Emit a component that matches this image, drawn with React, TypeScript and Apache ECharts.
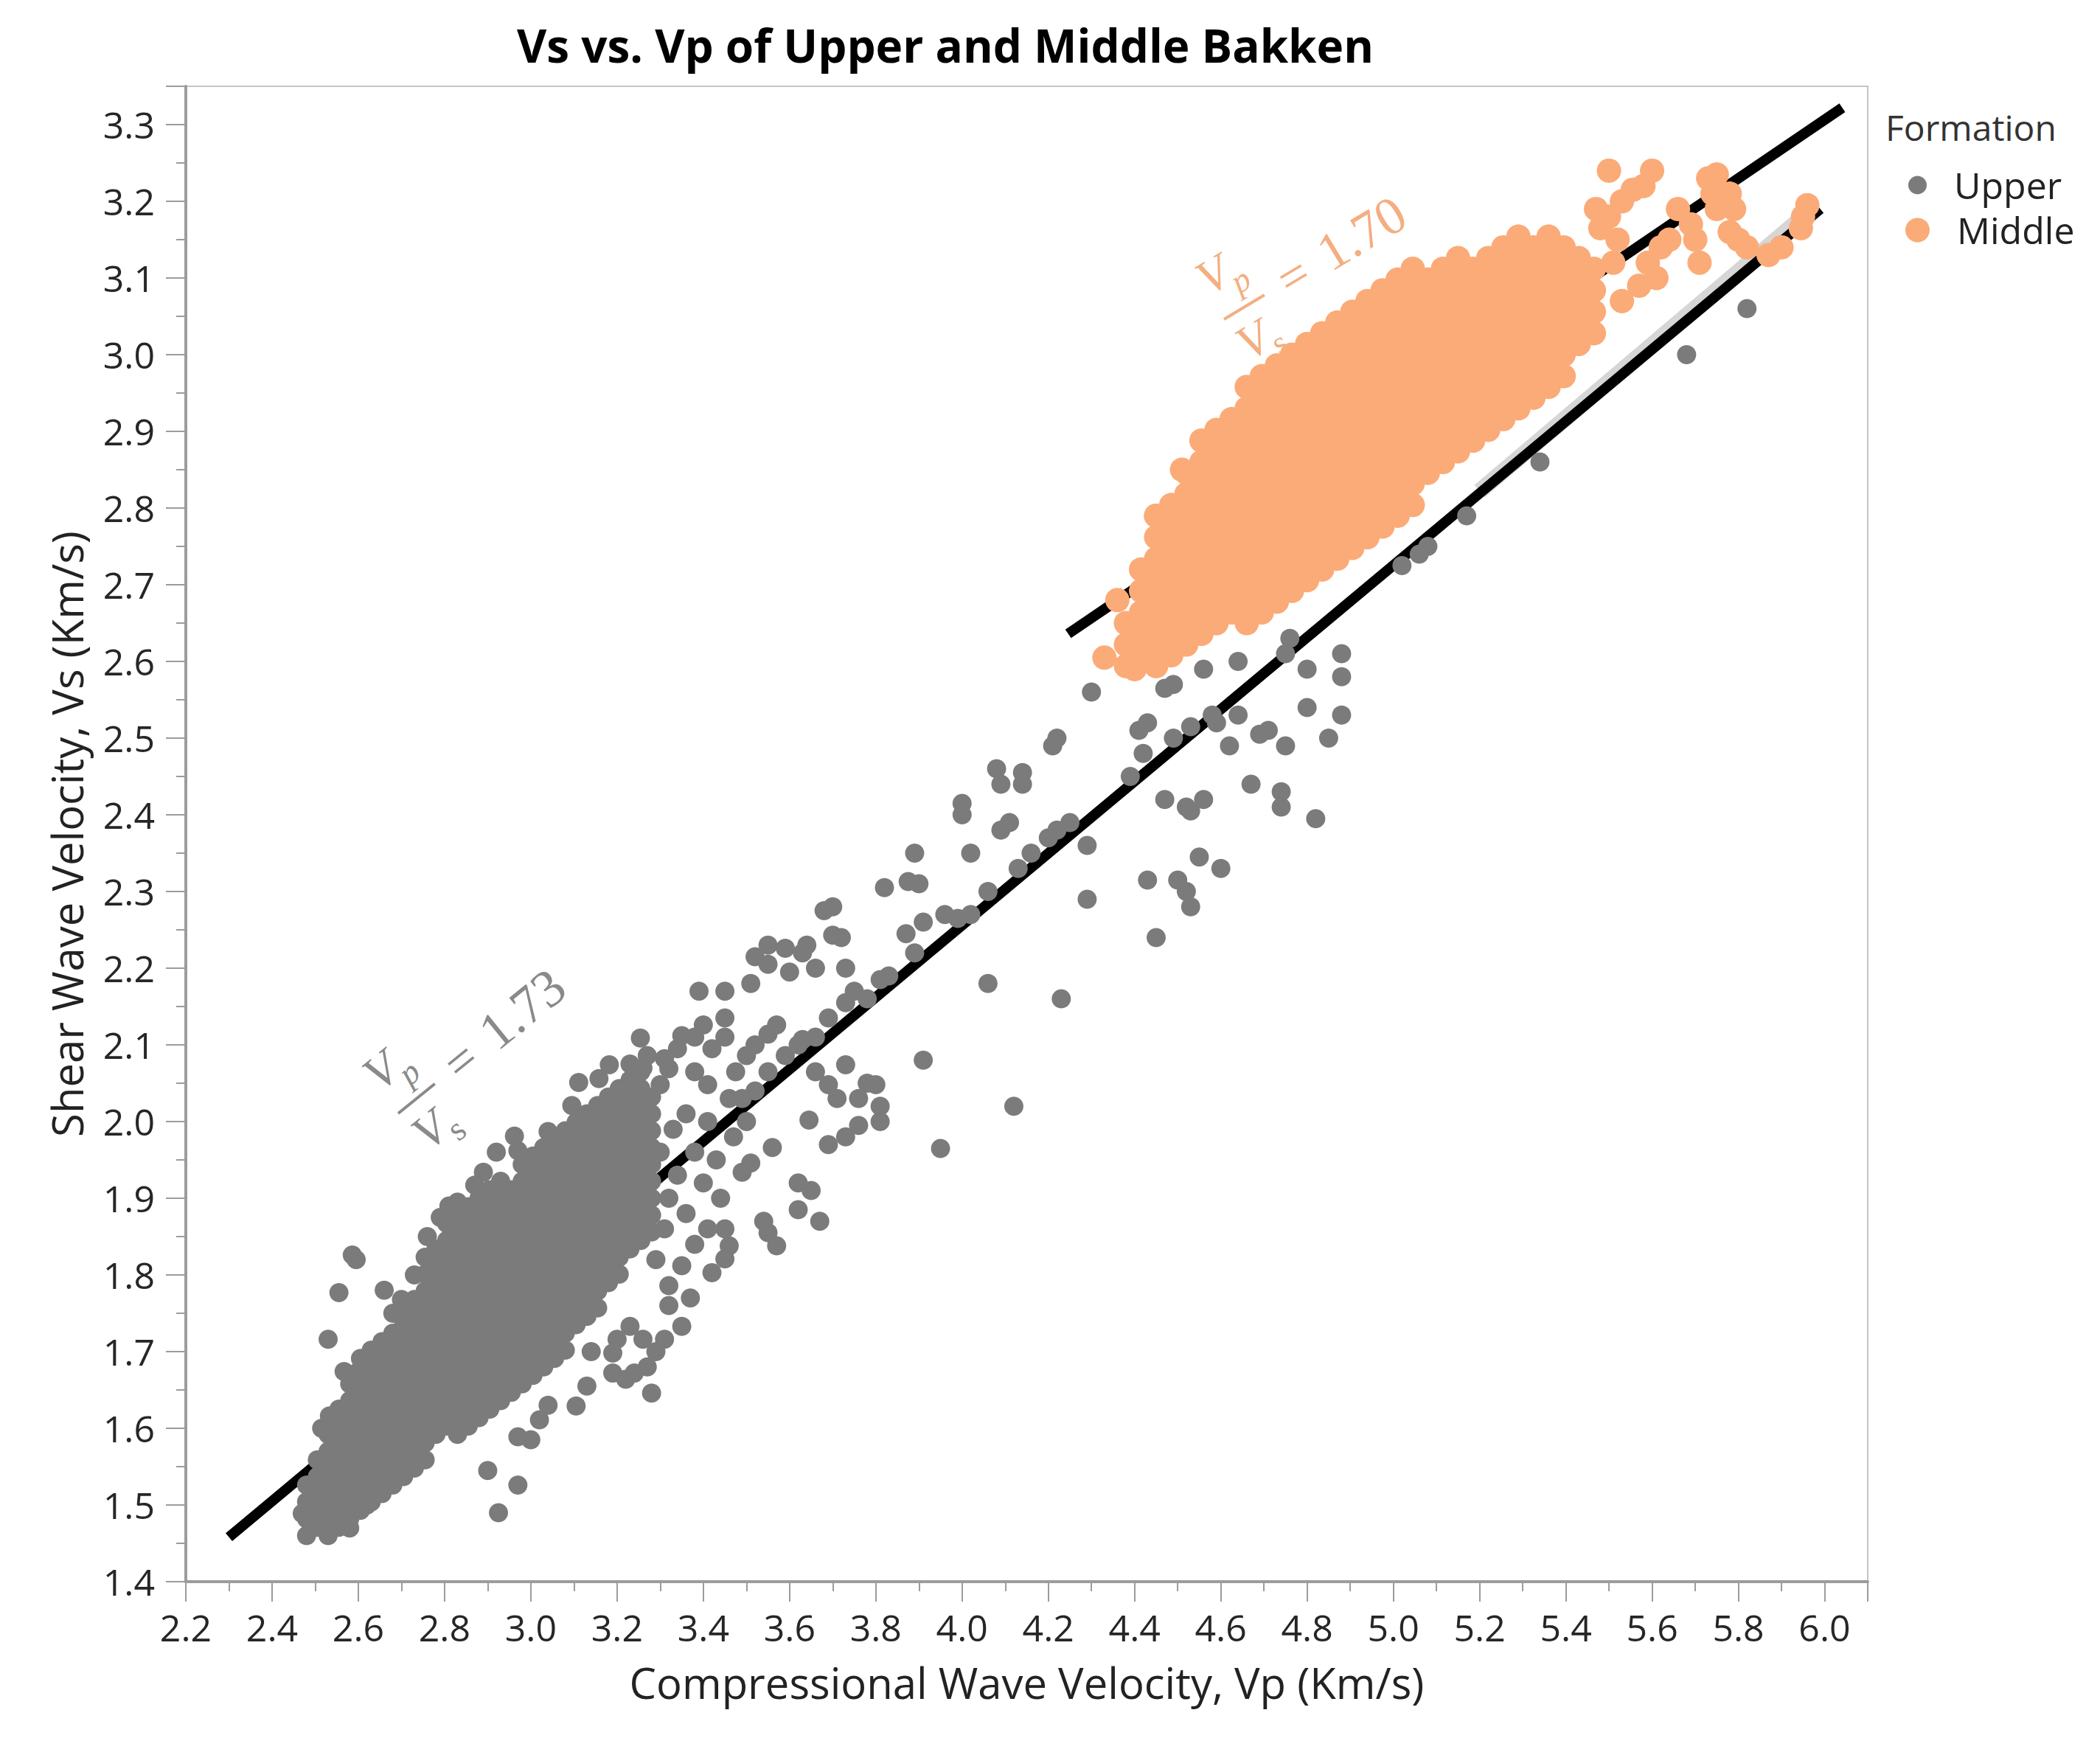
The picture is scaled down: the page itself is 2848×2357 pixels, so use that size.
import React, { useEffect, useRef } from "react";
import * as echarts from "echarts";

// ---------- texts ----------
const chartTitle = "Vs vs. Vp of Upper and Middle Bakken";
const xAxisName = "Compressional Wave Velocity, Vp (Km/s)";
const yAxisName = "Shear Wave Velocity, Vs (Km/s)";
const legendTitle = "Formation";
const upperName = "Upper";
const middleName = "Middle";
const upperRatioText = "1.73";
const middleRatioText = "1.70";

// ---------- axes ----------
const xMin = 2.2;
const xMax = 6.1;
const xStep = 0.2;
const yMin = 1.4;
const yMax = 3.35;
const yStep = 0.1;

// ---------- fitted lines (Vp, Vs) ----------
const upperFitLine: [number, number][] = [[2.30, 1.458], [5.99, 3.19]];
const upperFitBand: [number, number][] = [[5.2, 2.822], [5.98, 3.194]];
const middleFitLine: [number, number][] = [[4.246, 2.636], [6.041, 3.322]];

// ---------- Upper Bakken: dense core, read as columns [Vp, Vs values] ----------
const upperCoreColumns: [number, number[]][] = [
  [2.480, [1.460, 1.482, 1.504, 1.526]],
  [2.505, [1.471, 1.493, 1.515, 1.537, 1.559]],
  [2.530, [1.460, 1.482, 1.504, 1.526, 1.548, 1.570, 1.592]],
  [2.555, [1.471, 1.493, 1.515, 1.537, 1.559, 1.581, 1.603, 1.625]],
  [2.580, [1.482, 1.504, 1.526, 1.548, 1.570, 1.592, 1.614, 1.636, 1.658]],
  [2.605, [1.493, 1.515, 1.537, 1.559, 1.581, 1.603, 1.625, 1.647, 1.669, 1.691]],
  [2.630, [1.504, 1.526, 1.548, 1.570, 1.592, 1.614, 1.636, 1.658, 1.680, 1.702]],
  [2.655, [1.515, 1.537, 1.559, 1.581, 1.603, 1.625, 1.647, 1.669, 1.691, 1.713]],
  [2.680, [1.526, 1.548, 1.570, 1.592, 1.614, 1.636, 1.658, 1.680, 1.702, 1.724]],
  [2.705, [1.537, 1.559, 1.581, 1.603, 1.625, 1.647, 1.669, 1.691, 1.713, 1.735, 1.757]],
  [2.730, [1.548, 1.570, 1.592, 1.614, 1.636, 1.658, 1.680, 1.702, 1.724, 1.746, 1.768]],
  [2.755, [1.559, 1.581, 1.603, 1.625, 1.647, 1.669, 1.691, 1.713, 1.735, 1.757, 1.779, 1.801, 1.823]],
  [2.780, [1.592, 1.614, 1.636, 1.658, 1.680, 1.702, 1.724, 1.746, 1.768, 1.790, 1.812, 1.834]],
  [2.805, [1.603, 1.625, 1.647, 1.669, 1.691, 1.713, 1.735, 1.757, 1.779, 1.801, 1.823, 1.845, 1.867]],
  [2.830, [1.592, 1.614, 1.636, 1.658, 1.680, 1.702, 1.724, 1.746, 1.768, 1.790, 1.812, 1.834, 1.856, 1.878]],
  [2.855, [1.603, 1.625, 1.647, 1.669, 1.691, 1.713, 1.735, 1.757, 1.779, 1.801, 1.823, 1.845, 1.867, 1.889]],
  [2.880, [1.614, 1.636, 1.658, 1.680, 1.702, 1.724, 1.746, 1.768, 1.790, 1.812, 1.834, 1.856, 1.878, 1.900]],
  [2.905, [1.625, 1.647, 1.669, 1.691, 1.713, 1.735, 1.757, 1.779, 1.801, 1.823, 1.845, 1.867, 1.889, 1.911]],
  [2.930, [1.636, 1.658, 1.680, 1.702, 1.724, 1.746, 1.768, 1.790, 1.812, 1.834, 1.856, 1.878, 1.900, 1.922]],
  [2.955, [1.647, 1.669, 1.691, 1.713, 1.735, 1.757, 1.779, 1.801, 1.823, 1.845, 1.867, 1.889, 1.911]],
  [2.980, [1.658, 1.680, 1.702, 1.724, 1.746, 1.768, 1.790, 1.812, 1.834, 1.856, 1.878, 1.900, 1.922, 1.944]],
  [3.005, [1.669, 1.691, 1.713, 1.735, 1.757, 1.779, 1.801, 1.823, 1.845, 1.867, 1.889, 1.911, 1.933, 1.955]],
  [3.030, [1.680, 1.702, 1.724, 1.746, 1.768, 1.790, 1.812, 1.834, 1.856, 1.878, 1.900, 1.922, 1.944, 1.966]],
  [3.055, [1.691, 1.713, 1.735, 1.757, 1.779, 1.801, 1.823, 1.845, 1.867, 1.889, 1.911, 1.933, 1.955, 1.977]],
  [3.080, [1.702, 1.724, 1.746, 1.768, 1.790, 1.812, 1.834, 1.856, 1.878, 1.900, 1.922, 1.944, 1.966, 1.988]],
  [3.105, [1.735, 1.757, 1.779, 1.801, 1.823, 1.845, 1.867, 1.889, 1.911, 1.933, 1.955, 1.977, 1.999]],
  [3.130, [1.746, 1.768, 1.790, 1.812, 1.834, 1.856, 1.878, 1.900, 1.922, 1.944, 1.966, 1.988, 2.010]],
  [3.155, [1.757, 1.779, 1.801, 1.823, 1.845, 1.867, 1.889, 1.911, 1.933, 1.955, 1.977, 1.999, 2.021]],
  [3.180, [1.790, 1.812, 1.834, 1.856, 1.878, 1.900, 1.922, 1.944, 1.966, 1.988, 2.010, 2.032]],
  [3.205, [1.801, 1.823, 1.845, 1.867, 1.889, 1.911, 1.933, 1.955, 1.977, 1.999, 2.021, 2.043]],
  [3.230, [1.834, 1.856, 1.878, 1.900, 1.922, 1.944, 1.966, 1.988, 2.010, 2.032, 2.054]],
  [3.255, [1.845, 1.867, 1.889, 1.911, 1.933, 1.955, 1.977, 1.999, 2.021, 2.043, 2.065]],
  [3.280, [1.856, 1.878, 1.900, 1.922, 1.944, 1.966, 1.988, 2.010, 2.032]],
];

// ---------- Upper Bakken: scattered points ----------
const upperScatter: [number, number][] = [
  [5.82, 3.06], [5.68, 3.00], [5.34, 2.86], [5.17, 2.79], [5.08, 2.75], [5.06, 2.74], [5.02, 2.725],
  [4.88, 2.61], [4.88, 2.58], [4.80, 2.59], [4.76, 2.63], [4.75, 2.61], [4.64, 2.60], [4.56, 2.59],
  [4.47, 2.565], [4.49, 2.57], [4.30, 2.56], [4.22, 2.50], [4.21, 2.49], [4.41, 2.51], [4.43, 2.52],
  [4.49, 2.50], [4.53, 2.515], [4.58, 2.53], [4.59, 2.52], [4.64, 2.53], [4.69, 2.505], [4.71, 2.51],
  [4.75, 2.49], [4.80, 2.54], [4.62, 2.49], [4.67, 2.44], [4.74, 2.43], [4.74, 2.41], [4.82, 2.395],
  [4.85, 2.50], [4.88, 2.53], [4.39, 2.45], [4.42, 2.48], [4.47, 2.42], [4.52, 2.41], [4.53, 2.405],
  [4.56, 2.42], [4.55, 2.345], [4.43, 2.315], [4.50, 2.315], [4.52, 2.30], [4.53, 2.28], [4.45, 2.24],
  [4.60, 2.33], [4.29, 2.29], [4.29, 2.36], [4.23, 2.16], [4.12, 2.02], [3.95, 1.965], [3.91, 2.08],
  [4.06, 2.18], [4.13, 2.33], [4.16, 2.35], [4.20, 2.37], [4.22, 2.38], [4.25, 2.39], [4.08, 2.46],
  [4.09, 2.44], [4.14, 2.455], [4.14, 2.44], [4.00, 2.415], [4.00, 2.40], [4.02, 2.35], [4.09, 2.38],
  [4.11, 2.39], [4.06, 2.30], [4.02, 2.27], [3.99, 2.265], [3.96, 2.27], [3.91, 2.26], [3.87, 2.245],
  [3.89, 2.22], [3.83, 2.19], [3.81, 2.185], [3.75, 2.17], [3.78, 2.16], [3.73, 2.155], [3.69, 2.135],
  [3.66, 2.11], [3.63, 2.107], [3.62, 2.10], [3.59, 2.086], [3.55, 2.065], [3.52, 2.04], [3.49, 2.03],
  [3.90, 2.31], [3.875, 2.313], [3.89, 2.35], [3.82, 2.305], [3.70, 2.28], [3.68, 2.275], [3.72, 2.24],
  [3.70, 2.243], [3.73, 2.20], [3.63, 2.22], [3.64, 2.23], [3.66, 2.20], [3.60, 2.195], [3.59, 2.226],
  [3.55, 2.205], [3.52, 2.215], [3.55, 2.23], [3.51, 2.18], [3.45, 2.17], [3.39, 2.17], [3.45, 2.135],
  [3.45, 2.11], [3.42, 2.095], [3.38, 2.11], [3.35, 2.112], [3.34, 2.095], [3.31, 2.082], [3.38, 2.065],
  [3.41, 2.048], [3.475, 2.065], [3.50, 2.086], [3.52, 2.10], [3.55, 2.114], [3.57, 2.126], [3.66, 2.065],
  [3.69, 2.048], [3.71, 2.03], [3.73, 2.074], [3.76, 2.03], [3.78, 2.05], [3.80, 2.048], [3.81, 2.02],
  [3.76, 1.995], [3.73, 1.98], [3.81, 2.00], [3.69, 1.97], [3.645, 2.002], [3.56, 1.966], [3.51, 1.946],
  [3.49, 1.934], [3.62, 1.92], [3.65, 1.91], [3.62, 1.885], [3.67, 1.87], [3.54, 1.87], [3.55, 1.855],
  [3.57, 1.838], [3.45, 1.86], [3.46, 1.838], [3.45, 1.821], [3.42, 1.803], [3.38, 1.84], [3.35, 1.812],
  [3.32, 1.786], [3.35, 1.733], [3.31, 1.716], [3.29, 1.70], [3.27, 1.68], [3.24, 1.672], [3.22, 1.664],
  [3.19, 1.672], [3.28, 1.646], [3.26, 1.716], [3.23, 1.733], [3.20, 1.716], [3.19, 1.698], [3.14, 1.70],
  [3.13, 1.655], [3.105, 1.629], [3.04, 1.63], [3.02, 1.611], [3.00, 1.585], [2.97, 1.589], [2.925, 1.49],
  [2.97, 1.526], [2.90, 1.545], [2.47, 1.489], [2.53, 1.716], [2.555, 1.777], [2.586, 1.826], [2.595, 1.82],
  [2.567, 1.674], [2.60, 1.674], [2.533, 1.616], [2.515, 1.60], [2.68, 1.75], [2.70, 1.768], [2.66, 1.78],
  [2.73, 1.80], [2.76, 1.85], [2.79, 1.875], [2.81, 1.89], [2.83, 1.895], [2.87, 1.917], [2.89, 1.934],
  [2.92, 1.96], [2.962, 1.981], [2.97, 1.962], [3.04, 1.987], [3.095, 2.021], [3.111, 2.051], [3.158, 2.056],
  [3.182, 2.074], [3.254, 2.109], [3.27, 2.086], [3.23, 2.075], [3.30, 2.048], [3.32, 2.069], [3.26, 2.07],
  [3.40, 2.126], [3.32, 1.90], [3.34, 1.93], [3.36, 1.88], [3.40, 1.92], [3.43, 1.95], [3.38, 1.96],
  [3.33, 1.99], [3.36, 2.01], [3.30, 1.96], [3.31, 1.86], [3.29, 1.82], [3.32, 1.76], [3.37, 1.77],
  [3.41, 1.86], [3.44, 1.90], [3.47, 1.98], [3.50, 2.00], [3.41, 2.00], [3.46, 2.03], [2.62, 1.50], [2.58, 1.47],
];

// ---------- Middle Bakken: dense core, read as columns [Vp, Vs values] ----------
const middleCoreColumns: [number, number[]][] = [
  [4.380, [2.594, 2.622, 2.650]],
  [4.415, [2.608, 2.636, 2.664, 2.692, 2.720]],
  [4.450, [2.594, 2.622, 2.650, 2.678, 2.706, 2.734, 2.762, 2.790]],
  [4.485, [2.608, 2.636, 2.664, 2.692, 2.720, 2.748, 2.776, 2.804]],
  [4.520, [2.622, 2.650, 2.678, 2.706, 2.734, 2.762, 2.790, 2.818, 2.846]],
  [4.555, [2.636, 2.664, 2.692, 2.720, 2.748, 2.776, 2.804, 2.832, 2.860, 2.888]],
  [4.590, [2.650, 2.678, 2.706, 2.734, 2.762, 2.790, 2.818, 2.846, 2.874, 2.902]],
  [4.625, [2.664, 2.692, 2.720, 2.748, 2.776, 2.804, 2.832, 2.860, 2.888, 2.916]],
  [4.660, [2.650, 2.678, 2.706, 2.734, 2.762, 2.790, 2.818, 2.846, 2.874, 2.902, 2.930, 2.958]],
  [4.695, [2.664, 2.692, 2.720, 2.748, 2.776, 2.804, 2.832, 2.860, 2.888, 2.916, 2.944, 2.972]],
  [4.730, [2.678, 2.706, 2.734, 2.762, 2.790, 2.818, 2.846, 2.874, 2.902, 2.930, 2.958, 2.986]],
  [4.765, [2.692, 2.720, 2.748, 2.776, 2.804, 2.832, 2.860, 2.888, 2.916, 2.944, 2.972, 3.000]],
  [4.800, [2.706, 2.734, 2.762, 2.790, 2.818, 2.846, 2.874, 2.902, 2.930, 2.958, 2.986, 3.014]],
  [4.835, [2.720, 2.748, 2.776, 2.804, 2.832, 2.860, 2.888, 2.916, 2.944, 2.972, 3.000, 3.028]],
  [4.870, [2.734, 2.762, 2.790, 2.818, 2.846, 2.874, 2.902, 2.930, 2.958, 2.986, 3.014, 3.042]],
  [4.905, [2.748, 2.776, 2.804, 2.832, 2.860, 2.888, 2.916, 2.944, 2.972, 3.000, 3.028, 3.056]],
  [4.940, [2.762, 2.790, 2.818, 2.846, 2.874, 2.902, 2.930, 2.958, 2.986, 3.014, 3.042, 3.070]],
  [4.975, [2.776, 2.804, 2.832, 2.860, 2.888, 2.916, 2.944, 2.972, 3.000, 3.028, 3.056, 3.084]],
  [5.010, [2.790, 2.818, 2.846, 2.874, 2.902, 2.930, 2.958, 2.986, 3.014, 3.042, 3.070, 3.098]],
  [5.045, [2.804, 2.832, 2.860, 2.888, 2.916, 2.944, 2.972, 3.000, 3.028, 3.056, 3.084, 3.112]],
  [5.080, [2.846, 2.874, 2.902, 2.930, 2.958, 2.986, 3.014, 3.042, 3.070, 3.098]],
  [5.115, [2.860, 2.888, 2.916, 2.944, 2.972, 3.000, 3.028, 3.056, 3.084, 3.112]],
  [5.150, [2.874, 2.902, 2.930, 2.958, 2.986, 3.014, 3.042, 3.070, 3.098, 3.126]],
  [5.185, [2.888, 2.916, 2.944, 2.972, 3.000, 3.028, 3.056, 3.084, 3.112]],
  [5.220, [2.902, 2.930, 2.958, 2.986, 3.014, 3.042, 3.070, 3.098, 3.126]],
  [5.255, [2.916, 2.944, 2.972, 3.000, 3.028, 3.056, 3.084, 3.112, 3.140]],
  [5.290, [2.930, 2.958, 2.986, 3.014, 3.042, 3.070, 3.098, 3.126, 3.154]],
  [5.325, [2.944, 2.972, 3.000, 3.028, 3.056, 3.084, 3.112, 3.140]],
  [5.360, [2.958, 2.986, 3.014, 3.042, 3.070, 3.098, 3.126, 3.154]],
  [5.395, [2.972, 3.000, 3.028, 3.056, 3.084, 3.112, 3.140]],
  [5.430, [3.014, 3.042, 3.070, 3.098, 3.126]],
  [5.465, [3.028, 3.056, 3.084, 3.112]],
];

// ---------- Middle Bakken: scattered points ----------
const middleScatter: [number, number][] = [
  [4.33, 2.605], [4.36, 2.68], [4.40, 2.59], [4.45, 2.79], [4.51, 2.85],
  [5.50, 3.24], [5.60, 3.24], [5.53, 3.20], [5.555, 3.215], [5.58, 3.22], [5.50, 3.18], [5.47, 3.19],
  [5.52, 3.15], [5.51, 3.12], [5.48, 3.165], [5.66, 3.19], [5.64, 3.15], [5.62, 3.14], [5.59, 3.12],
  [5.61, 3.10], [5.57, 3.09], [5.53, 3.07], [5.69, 3.17], [5.70, 3.15], [5.73, 3.23], [5.75, 3.235],
  [5.74, 3.21], [5.75, 3.19], [5.78, 3.21], [5.79, 3.19], [5.78, 3.16], [5.80, 3.15], [5.82, 3.14],
  [5.87, 3.13], [5.90, 3.14], [5.95, 3.18], [5.96, 3.195], [5.945, 3.165], [5.71, 3.12],
];

const flatten = (cols: [number, number[]][]) => {
  const out: [number, number][] = [];
  cols.forEach(([x, ys]) => ys.forEach((y) => out.push([x, y])));
  return out;
};

const SANS = "'Open Sans', 'Noto Sans', sans-serif";
const SERIF = "'Liberation Serif', 'DejaVu Serif', serif";
const UPPER_COLOR = "#7b7b7b";
const MIDDLE_COLOR = "#fbab78";
const AXIS_COLOR = "#9c9c9c";

function ratioLabel(x: number, y: number, angleDeg: number, color: string, value: string) {
  const t = (text: string, px: number, py: number, size: number, italic: boolean, align = "left") => ({
    type: "text",
    x: px,
    y: py,
    style: {
      text,
      fill: color,
      fontSize: size,
      fontFamily: SERIF,
      fontStyle: italic ? "italic" : "normal",
      align,
      verticalAlign: "middle",
      textAlign: align,
      textVerticalAlign: "middle",
    },
  });
  return {
    type: "group",
    x,
    y,
    rotation: (angleDeg * Math.PI) / 180,
    silent: true,
    z: 10,
    children: [
      { type: "line", shape: { x1: 0, y1: 0, x2: 64, y2: 0 }, style: { stroke: color, lineWidth: 4 } },
      t("V", -2, -60, 66, true),
      t("p", 35, -34, 46, true),
      t("V", -1, 44, 66, true),
      t("s", 39, 66, 46, false),
      t("=", 111, -2, 70, false, "center"),
      t(value, 220, -4, 72, false, "center"),
    ],
  };
}

export default function App() {
  const ref = useRef<HTMLDivElement | null>(null);

  useEffect(() => {
    if (!ref.current) return;
    const chart = echarts.init(ref.current, undefined, { renderer: "svg" });

    const axisCommon = {
      type: "value",
      nameLocation: "middle",
      nameTextStyle: { fontSize: 58, color: "#222", fontFamily: SANS },
      axisLine: { show: true, onZero: false, lineStyle: { color: AXIS_COLOR, width: 4 } },
      axisTick: { show: true, inside: false, length: 27, lineStyle: { color: AXIS_COLOR, width: 2 } },
      minorTick: { show: true, splitNumber: 2, length: 13, lineStyle: { color: AXIS_COLOR, width: 2 } },
      splitLine: { show: false },
      minorSplitLine: { show: false },
    };

    const lineSeries = (data: [number, number][], color: string, width: number) => ({
      type: "line",
      data,
      showSymbol: false,
      symbol: "none",
      silent: true,
      z: 1,
      zlevel: 0,
      animation: false,
      lineStyle: { color, width },
    });

    chart.setOption({
      animation: false,
      backgroundColor: "#ffffff",
      textStyle: { fontFamily: SANS },
      title: [
        {
          text: chartTitle,
          left: 1282,
          top: 30,
          textAlign: "center",
          padding: 0,
          textStyle: { fontSize: 62, fontWeight: "bold", color: "#000", fontFamily: SANS },
        },
        {
          text: legendTitle,
          left: 2557,
          top: 148,
          padding: 0,
          textStyle: { fontSize: 48, fontWeight: "normal", color: "#333", fontFamily: SANS },
        },
      ],
      legend: [
        {
          data: [upperName],
          left: 2588,
          top: 226,
          padding: 0,
          icon: "circle",
          itemWidth: 25,
          itemHeight: 25,
          selectedMode: false,
          textStyle: { fontSize: 50, color: "#222", fontFamily: SANS, padding: [0, 0, 0, 32] },
        },
        {
          data: [middleName],
          left: 2584,
          top: 287,
          padding: 0,
          icon: "circle",
          itemWidth: 33,
          itemHeight: 33,
          selectedMode: false,
          textStyle: { fontSize: 50, color: "#222", fontFamily: SANS, padding: [0, 0, 0, 32] },
        },
      ],
      grid: {
        left: 252,
        top: 117,
        width: 2281,
        height: 2028,
        show: true,
        borderColor: "#c4c4c4",
        borderWidth: 2,
        backgroundColor: "transparent",
        containLabel: false,
      },
      xAxis: {
        ...axisCommon,
        min: xMin,
        max: xMax,
        interval: xStep,
        name: xAxisName,
        nameGap: 107,
        axisLabel: {
          fontSize: 50,
          color: "#262626",
          margin: 37,
          showMaxLabel: false,
          formatter: (v: number) => v.toFixed(1),
        },
      },
      yAxis: {
        ...axisCommon,
        min: yMin,
        max: yMax,
        interval: yStep,
        name: yAxisName,
        nameGap: 133,
        axisLabel: {
          fontSize: 50,
          color: "#262626",
          margin: 42,
          showMaxLabel: false,
          formatter: (v: number) => v.toFixed(1),
        },
      },
      series: [
        lineSeries(upperFitBand, "#d6d6d6", 22),
        lineSeries(upperFitLine, "#000000", 14),
        lineSeries(middleFitLine, "#000000", 14),
        {
          name: upperName,
          type: "scatter",
          data: [...flatten(upperCoreColumns), ...upperScatter],
          symbol: "circle",
          symbolSize: 26,
          z: 5,
          progressive: 0,
          large: false,
          itemStyle: { color: UPPER_COLOR, opacity: 1 },
        },
        {
          name: middleName,
          type: "scatter",
          data: [...flatten(middleCoreColumns), ...middleScatter],
          symbol: "circle",
          symbolSize: 33,
          z: 6,
          progressive: 0,
          large: false,
          itemStyle: { color: MIDDLE_COLOR, opacity: 1 },
        },
      ],
      graphic: [
        ratioLabel(540, 1510, 39, "#8a8a8a", upperRatioText),
        ratioLabel(1660, 433, 31, "#f3ae82", middleRatioText),
      ],
    });

    return () => chart.dispose();
  }, []);

  return (
    <div
      ref={ref}
      style={{ position: "fixed", left: 0, top: 0, width: 2848, height: 2357, background: "#fff" }}
    />
  );
}
